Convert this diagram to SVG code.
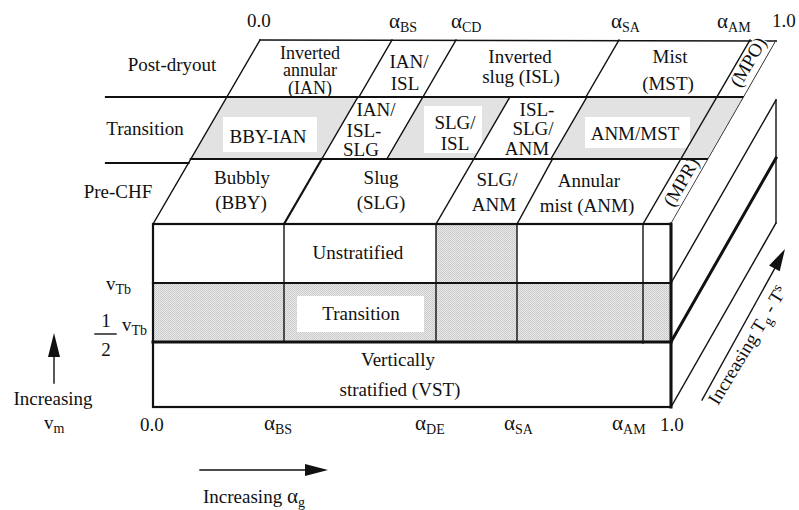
<svg xmlns="http://www.w3.org/2000/svg" width="799" height="510" viewBox="0 0 799 510">
  <style>
    .t { font-family: "Liberation Serif", "Times New Roman", serif; font-size: 19px; fill: #111; }
    .c { text-anchor: middle; }
    .sm { font-size: 18px; }
    .ln { stroke: #111; fill: none; stroke-width: 1.4; stroke-linecap: square; }
    .thk { stroke-width: 2.2; }
    .hvy { stroke-width: 3; }
    .shade { fill: #e2e2e2; stroke: none; }
    .stip { fill: url(#stipple); stroke: none; }
    .box { fill: #fff; stroke: none; }
    .gk { font-size: 21px; }
  </style>
  <defs>
    <pattern id="stipple" width="2" height="2" patternUnits="userSpaceOnUse">
      <rect width="2" height="2" fill="#e9e9e9"/>
      <rect width="1" height="1" fill="#c6c6c6"/>
      <rect x="1" y="1" width="1" height="1" fill="#cfcfcf"/>
    </pattern>
  </defs>

  <rect width="799" height="510" fill="#fff"/>

  <!-- top face: three depth slabs (Pre-CHF, Transition, Post-dryout) -->
  <g id="top-face">
    <polygon points="153,224 260,40 776,41 671,224" fill="#fff"/>
    <polygon class="shade" points="190.8,159 321.8,159 357.9,97 226.9,97"/>
    <polygon class="shade" points="386.8,159 473.8,159 509.9,97 422.9,97"/>
    <polygon class="shade" points="550.8,159 680.8,159 716.9,97 586.9,97"/>
    <polygon class="shade" points="680.8,159 708.3,159 743.9,97 716.9,97"/>
    <rect class="box" x="223" y="117" width="94" height="35"/>
    <rect class="box" x="424" y="106" width="58" height="47"/>
    <rect class="box" x="585" y="117" width="105" height="31"/>

    <line class="ln" x1="260" y1="40" x2="776" y2="41"/>
    <line class="ln thk" x1="106" y1="97" x2="743.9" y2="97"/>
    <line class="ln thk" x1="190.8" y1="159" x2="708.3" y2="159"/>
    <line class="ln thk" x1="106" y1="163" x2="188.5" y2="163"/>

    <line class="ln" x1="153" y1="224" x2="260" y2="40"/>
    <line class="ln" x1="671" y1="224" x2="776" y2="41"/>
    <line class="ln" x1="643" y1="224" x2="750" y2="40"/>

    <!-- Pre-CHF row boundaries -->
    <line class="ln thk" x1="284" y1="224" x2="321.8" y2="159"/>
    <line class="ln" x1="436" y1="224" x2="473.8" y2="159"/>
    <line class="ln" x1="517" y1="224" x2="552.5" y2="159"/>
    <!-- Transition row boundaries -->
    <line class="ln" x1="321.8" y1="159" x2="357.9" y2="97"/>
    <line class="ln" x1="386.8" y1="159" x2="422.9" y2="97"/>
    <line class="ln" x1="473.8" y1="159" x2="509.9" y2="97"/>
    <line class="ln" x1="550.8" y1="159" x2="586.9" y2="97"/>
    <!-- Post-dryout row boundaries -->
    <line class="ln" x1="358.9" y1="97" x2="392" y2="40"/>
    <line class="ln" x1="422.9" y1="97" x2="456" y2="40"/>
    <line class="ln" x1="585.9" y1="97" x2="619" y2="40"/>
  </g>

  <!-- right face: depth direction -->
  <g id="right-face">
    <polygon points="671,224 776,41 776,223 671,407" fill="#fff"/>
    <line class="ln" x1="671" y1="283" x2="776" y2="100"/>
    <line class="ln hvy" x1="671" y1="342" x2="776" y2="158"/>
    <line class="ln" x1="671" y1="407" x2="776" y2="223"/>
    <line class="ln" x1="776" y1="100" x2="776" y2="223"/>
  </g>

  <!-- front face: stratification bands -->
  <g id="front-face">
    <rect x="153" y="224" width="518" height="183" fill="#fff"/>
    <rect class="stip" x="153" y="283" width="518" height="59"/>
    <rect class="stip" x="436" y="224" width="81" height="59"/>
    <rect class="box" x="297" y="296" width="127" height="36"/>
    <line class="ln" x1="284" y1="224" x2="284" y2="342"/>
    <line class="ln" x1="436" y1="224" x2="436" y2="342"/>
    <line class="ln" x1="517" y1="224" x2="517" y2="342"/>
    <line class="ln" x1="643" y1="224" x2="643" y2="343"/>
    <line class="ln thk" x1="153" y1="283" x2="671" y2="283"/>
    <line class="ln hvy" x1="153" y1="342" x2="671" y2="342"/>
    <rect class="ln thk" x="153" y="224" width="518" height="183"/>
    <line class="ln hvy" x1="671" y1="224" x2="671" y2="407"/>
  </g>

  <!-- regime labels -->
  <g id="labels-post-dryout">
    <text class="t c sm" x="310" y="59">Inverted<tspan x="310" dy="17">annular</tspan><tspan x="310" dy="18">(IAN)</tspan></text>
    <text class="t c" x="409" y="68">IAN/</text>
    <text class="t c" x="405" y="90">ISL</text>
    <text class="t c" x="520" y="63">Inverted</text>
    <text class="t c" x="521" y="83">slug (ISL)</text>
    <text class="t c" x="670" y="63">Mist</text>
    <text class="t c" x="668" y="90">(MST)</text>
    <g transform="translate(748,62) rotate(-60)">
      <rect class="box" x="-27" y="-7" width="54" height="15"/>
      <text class="t c" x="0" y="6.5">(MPO)</text>
    </g>
  </g>
  <g id="labels-transition">
    <text class="t c" x="268" y="143">BBY-IAN</text>
    <text class="t c" x="376" y="116">IAN/</text>
    <text class="t c" x="364" y="137">ISL-</text>
    <text class="t c" x="361" y="156">SLG</text>
    <text class="t c" x="455" y="129">SLG/</text>
    <text class="t c" x="455" y="150">ISL</text>
    <text class="t c" x="537" y="116">ISL-</text>
    <text class="t c" x="533" y="135">SLG/</text>
    <text class="t c" x="527" y="155">ANM</text>
    <text class="t c" x="635" y="140">ANM/MST</text>
  </g>
  <g id="labels-pre-chf">
    <text class="t c" x="242" y="184">Bubbly</text>
    <text class="t c" x="241" y="209">(BBY)</text>
    <text class="t c" x="381" y="184">Slug</text>
    <text class="t c" x="381" y="209">(SLG)</text>
    <text class="t c" x="497" y="186">SLG/</text>
    <text class="t c" x="494" y="211">ANM</text>
    <text class="t c" x="589" y="187">Annular</text>
    <text class="t c" x="587" y="212">mist (ANM)</text>
    <g transform="translate(681,182) rotate(-60)">
      <text class="t c" x="0" y="6.5">(MPR)</text>
    </g>
  </g>
  <g id="labels-front">
    <text class="t c" x="358" y="259">Unstratified</text>
    <text class="t c" x="361" y="320">Transition</text>
    <text class="t c" x="398" y="366">Vertically</text>
    <text class="t c" x="400" y="396">stratified (VST)</text>
  </g>
  <g id="labels-side">
    <text class="t c" x="172" y="71">Post-dryout</text>
    <text class="t c" x="145" y="135">Transition</text>
    <text class="t c" x="118" y="198">Pre-CHF</text>
  </g>

  <!-- void fraction axis, top -->
  <g id="axis-top">
    <text class="t" x="247" y="27">0.0</text>
    <text class="t" x="389" y="28"><tspan class="gk">α</tspan><tspan dy="4" font-size="14">BS</tspan></text>
    <text class="t" x="451" y="28"><tspan class="gk">α</tspan><tspan dy="4" font-size="14">CD</tspan></text>
    <text class="t" x="611" y="28"><tspan class="gk">α</tspan><tspan dy="4" font-size="14">SA</tspan></text>
    <text class="t" x="717" y="28"><tspan class="gk">α</tspan><tspan dy="4" font-size="14">AM</tspan></text>
    <text class="t" x="772" y="27">1.0</text>
  </g>

  <!-- void fraction axis, bottom -->
  <g id="axis-bottom">
    <text class="t" x="140" y="431">0.0</text>
    <text class="t" x="264" y="430"><tspan class="gk">α</tspan><tspan dy="4" font-size="14">BS</tspan></text>
    <text class="t" x="415" y="430"><tspan class="gk">α</tspan><tspan dy="4" font-size="14">DE</tspan></text>
    <text class="t" x="504" y="430"><tspan class="gk">α</tspan><tspan dy="4" font-size="14">SA</tspan></text>
    <text class="t" x="612" y="430"><tspan class="gk">α</tspan><tspan dy="4" font-size="14">AM</tspan></text>
    <text class="t" x="660" y="431">1.0</text>
  </g>

  <!-- velocity axis, left -->
  <g id="axis-left">
    <text class="t" x="106" y="290">v<tspan dy="4" font-size="14">Tb</tspan></text>
    <text class="t c" x="106" y="327">1</text>
    <line class="ln" x1="95" y1="334" x2="116" y2="334" stroke-width="1.2"/>
    <text class="t c" x="106" y="356">2</text>
    <text class="t" x="122" y="331">v<tspan dy="4" font-size="14">Tb</tspan></text>
  </g>

  <!-- direction arrows -->
  <g id="arrows">
    <line class="ln" x1="54" y1="383" x2="54" y2="356" stroke-width="1.3"/>
    <polygon points="54,333 48,357 60,357" fill="#111"/>
    <text class="t c" x="53" y="405">Increasing</text>
    <text class="t" x="44" y="429">v<tspan dy="4" font-size="14">m</tspan></text>

    <line class="ln" x1="200" y1="470" x2="306" y2="470" stroke-width="1.3"/>
    <polygon points="328,470 305,464 305,476" fill="#111"/>
    <text class="t" x="203" y="503">Increasing <tspan class="gk">α</tspan><tspan dy="4" font-size="14">g</tspan></text>

    <line class="ln" x1="702" y1="400" x2="775" y2="268" stroke-width="1.3"/>
    <polygon points="785,249 779.7,271.2 769.1,265.4" fill="#111"/>
    <text class="t" transform="translate(718,406) rotate(-59)">Increasing T<tspan dy="4" font-size="14">g</tspan><tspan dy="-4"> - T</tspan><tspan dy="-6" font-size="14">s</tspan></text>
  </g>
</svg>
